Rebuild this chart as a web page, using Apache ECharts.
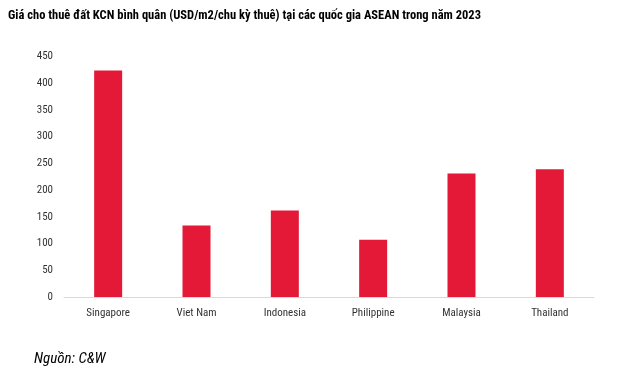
<!DOCTYPE html>
<html><head><meta charset="utf-8">
<script src="https://cdn.jsdelivr.net/npm/echarts@6/dist/echarts.min.js"></script>
<style>html,body{margin:0;padding:0;background:#fff}#c{width:624px;height:379px}</style>
</head><body><div id="c"></div>
<script>
const categories = ["Singapore", "Viet Nam", "Indonesia", "Philippine", "Malaysia", "Thailand"];
const values = [424, 134, 162, 107, 231, 239];
const titleText = "Giá cho thuê đất KCN bình quân (USD/m2/chu kỳ thuê) tại các quốc gia ASEAN trong năm 2023";
const sourceText = "Nguồn: C&W";
const narrow = '"Liberation Sans Narrow", "Arial Narrow", "Roboto Condensed", "Liberation Sans", sans-serif';
const chart = echarts.init(document.getElementById('c'), null, {renderer: 'canvas'});
chart.setOption({
  animation: false,
  backgroundColor: '#fff',
  title: [{
    text: titleText, left: 3, top: 4,
    textStyle: {fontFamily: narrow, fontSize: 12.5, fontWeight: 'bold', color: '#000'}
  }, {
    text: sourceText, left: 29, top: 347,
    textStyle: {fontFamily: narrow, fontSize: 15, fontStyle: 'italic', fontWeight: 'normal', color: '#000'}
  }],
  grid: {left: 64, right: 30, top: 56.5, bottom: 82, containLabel: false},
  xAxis: {
    type: 'category', data: categories,
    axisLine: {lineStyle: {color: '#d9d9d9', width: 1}},
    axisTick: {show: false},
    axisLabel: {fontFamily: narrow, fontSize: 11, color: '#333', margin: 11}
  },
  yAxis: {
    type: 'value', min: 0, max: 450, interval: 50,
    splitLine: {show: false},
    axisLine: {show: false}, axisTick: {show: false},
    axisLabel: {fontFamily: narrow, fontSize: 11, color: '#333', margin: 11}
  },
  series: [{
    type: 'bar', data: values, barWidth: 28,
    itemStyle: {color: '#E31937'}
  }]
});
</script></body></html>
